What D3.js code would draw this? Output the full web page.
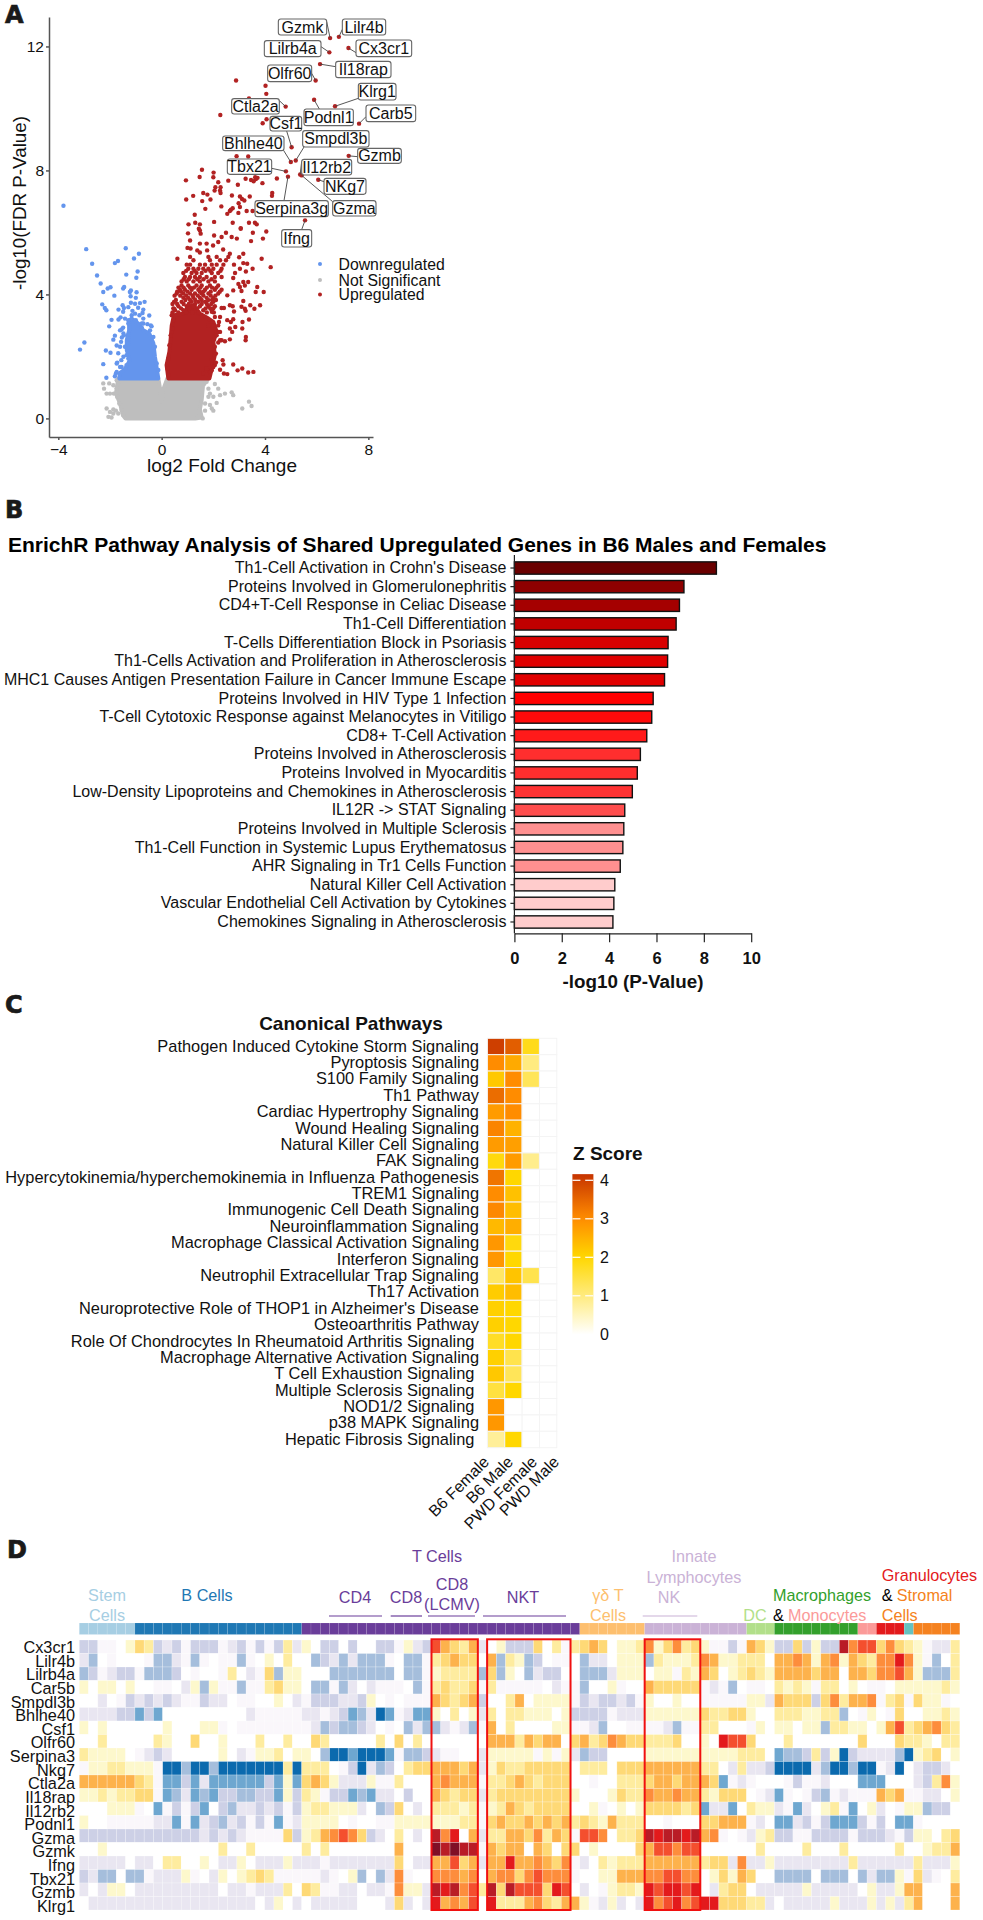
<!DOCTYPE html>
<html><head><meta charset="utf-8">
<script src="https://cdn.jsdelivr.net/npm/d3@7/dist/d3.min.js"></script>
<style>
html,body{margin:0;padding:0;background:#fff}
svg{display:block}
text{font-family:"Liberation Sans",Arial,sans-serif;fill:#111}
.pre{white-space:pre}
</style></head><body>
<svg id="fig" width="983" height="1920"></svg>
<script>
/* ---------- Panel A data (log2 fold change, -log10 FDR) ---------- */
const labelGenes=["Gzmk","Lilr4b","Lilrb4a","Cx3cr1","Il18rap","Olfr60","Klrg1","Ctla2a","Podnl1","Carb5","Csf1","Smpdl3b","Bhlhe40","Gzmb","Tbx21","Il12rb2","NKg7","Serpina3g","Gzma","Ifng"];
const labelFC=[6.52,6.86,6.49,7.23,6.13,5.96,6.71,4.8,5.9,7.64,5.03,5.19,5.0,7.24,4.81,5.36,6.06,4.89,5.42,5.55];
const labelP=[12.27,12.31,11.81,11.95,11.43,10.9,10.07,10.06,10.28,9.51,8.75,8.32,8.27,8.47,7.97,7.87,7.7,7.8,7.84,6.39];
const upSparse=[[2.88,10.9],[4.02,10.73],[4.05,10.47],[3.38,10.32],[2.27,9.79],[3.91,9.52],[4.06,9.65],[2.9,8.46],[3.35,8.45],
[1.56,8.02],[2.01,7.93],[1.47,7.79],[.94,7.68],[2.0,7.78],[2.19,7.62],[2.58,7.67],[3.25,7.73],[3.46,7.69],[3.56,7.65],[3.65,7.72],[3.71,7.76],[3.62,7.78],[4.46,7.74],[3.9,7.59],[2.95,7.54],
[2.08,7.46],[2.28,7.46],[2.05,7.35],[2.26,7.35],[2.28,7.27],[1.61,7.27],[1.22,7.18],[1.77,7.22],[2.72,7.19],[3.03,7.16],[3.41,7.16],[4.28,7.27],[4.27,7.18],[.95,7.06],[1.57,7.01],[1.89,7.06],[3.11,7.08],[3.2,7.03],[2.98,6.94],[3.74,6.97],
[2.31,6.84],[1.69,6.76],[2.75,6.78],[3.03,6.82],[2.68,6.73],[2.64,6.69],[3.29,6.69],[2.54,6.6],[2.97,6.63],[3.52,6.69],[1.28,6.57],[1.04,6.26],[1.3,6.31],[1.48,6.26],[2.03,6.34],[1.44,6.12],[2.75,6.31],[3.06,6.12],[3.38,6.31],[3.61,6.31],[3.68,6.26],
[1.02,5.97],[1.48,6.06],[1.51,5.96],[2.03,5.9],[2.49,5.99],[2.32,5.85],[2.71,5.85],[2.91,5.8],[3.06,6.14],[3.53,5.99],[4.05,6.03],[3.92,5.8],[3.46,5.72],[1.1,5.74],[1.48,5.64],[1.74,5.64],[1.99,5.58],[2.19,5.69],[1.0,5.5],[1.12,5.48],[1.38,5.42],[1.48,5.35],[.61,5.15],[1.76,5.42],[2.38,5.45],[2.64,5.31],[3.16,5.31],[3.0,5.2],[3.87,5.15],
[4.22,4.88],[2.8,4.96],[3.16,5.01],[3.31,4.99],[3.52,4.83],[3.03,4.83],[3.26,4.74],[2.84,4.69],[2.77,4.53],[2.97,4.34],[3.16,4.4],[3.35,4.4],[3.22,4.29],[3.03,4.24],[3.7,4.24],[3.64,4.08],[3.95,4.08],[2.77,4.13],[3.09,4.11],[2.54,3.97],[3.16,3.79],[3.43,3.65],[3.81,3.65],[3.59,3.54],[2.64,3.65],[2.75,3.62],[2.32,3.56],[2.41,3.56],[3.09,3.6],[3.22,3.54],[3.25,3.47],[2.8,3.45],
[2.54,3.17],[2.68,3.11],[2.77,3.2],[3.38,3.19],[3.13,3.11],[2.85,2.95],[2.64,2.9],[2.73,2.79],[3.12,2.9],[3.26,2.63],[3.25,2.52],[2.22,3.11],[2.26,3.27],[2.19,3.0],[2.26,2.79],[2.13,2.68],[2.32,2.52],[2.45,2.49],[2.64,2.55],[2.19,2.45],
[2.1,1.8],[2.36,1.88],[2.39,1.74],[2.26,1.57],[2.41,1.45],[2.54,1.43],[2.77,1.74],[2.94,1.55],[3.12,1.61],[3.35,1.48],[3.55,1.5],[2.0,1.66],[1.74,1.61],[1.94,1.55]];
const upCluster=[[1.1,5.21],[1.81,5.21],[2.13,5.21],[2.58,5.21],[1.23,5.1],[1.87,5.1],[2.26,5.1],[2.49,5.1],
[.97,4.96],[1.1,4.96],[1.48,4.96],[1.68,4.96],[1.94,4.96],[2.13,4.96],[2.39,4.96],[1.03,4.83],[1.23,4.83],[1.42,4.83],[1.61,4.83],[1.81,4.83],[2.0,4.83],[2.32,4.83],
[.84,4.69],[1.16,4.69],[1.35,4.69],[1.55,4.69],[1.94,4.69],[2.19,4.69],[.9,4.56],[1.1,4.56],[1.29,4.56],[1.48,4.56],[1.74,4.56],[2.06,4.56],[2.32,4.56],
[.77,4.42],[.97,4.42],[1.23,4.42],[1.48,4.42],[1.81,4.42],[2.06,4.42],[.77,4.29],[1.03,4.29],[1.35,4.29],[1.55,4.29],[1.87,4.29],[2.19,4.29],
[.71,4.15],[.9,4.15],[1.16,4.15],[1.42,4.15],[1.68,4.15],[2.06,4.15],[2.32,4.15],[.58,4.03],[.84,4.03],[1.1,4.03],[1.29,4.03],[1.55,4.03],[1.81,4.03],[2.19,4.03],
[.84,3.89],[1.03,3.89],[1.23,3.89],[1.48,3.89],[1.74,3.89],[2.0,3.89],[.48,3.76],[.77,3.76],[1.16,3.76],[1.42,3.76],[1.68,3.76],[2.0,3.76],
[.65,3.62],[.97,3.62],[1.23,3.62],[1.48,3.62],[1.81,3.62],[2.06,3.62],[.52,3.49],[.84,3.49],[1.1,3.49],[1.29,3.49],[1.61,3.49],[1.94,3.49],
[.95,4.76],[1.28,4.76],[1.7,4.76],[1.88,4.76],[2.28,4.76],
[.85,4.49],[1.05,4.49],[1.38,4.49],[1.62,4.49],[1.93,4.49],
[.65,4.22],[.85,4.22],[1.1,4.22],[1.25,4.22],[1.5,4.22],[1.75,4.22],[1.95,4.22],[2.12,4.22],
[.6,4.09],[.75,4.09],[1.0,4.09],[1.48,4.09],[1.62,4.09],[1.9,4.09],[2.25,4.09],
[.5,3.96],[.72,3.96],[.95,3.96],[1.2,3.96],[1.4,3.96],[1.62,3.96],[1.9,3.96],[2.08,3.96],
[.55,3.82],[.92,3.82],[1.1,3.82],[1.3,3.82],[1.55,3.82],[1.8,3.82],[1.95,3.82],[2.1,3.82],
[.42,3.69],[.6,3.69],[.85,3.69],[1.05,3.69],[1.3,3.69],[1.55,3.69],[1.75,3.69],[1.92,3.69],
[.45,3.55],[.75,3.55],[1.05,3.55],[1.38,3.55],[1.7,3.55],[1.88,3.55],[2.0,3.55],
[.42,3.42],[.65,3.42],[.95,3.42],[1.2,3.42],[1.42,3.42],[1.75,3.42],[2.02,3.42],
[.45,3.17],[.43,2.9],[.35,2.68],[.3,2.36],[.26,1.93],[.22,1.61],[.26,1.4],[2.0,3.0],[2.19,2.79],[2.26,2.52],[2.06,2.31],[2.1,2.09],[1.94,1.88],[2.06,1.72],[1.87,1.5],[1.61,1.45],[1.81,3.0],[2.06,3.27],[1.94,3.44],[.39,3.33],[.48,3.54]];
const upCore=[[.48,3.33],[.84,3.38],[1.03,3.6],[1.23,3.65],[1.48,3.38],[1.81,3.22],[2.0,3.11],[2.13,2.79],[2.0,2.47],[2.06,2.04],[1.94,1.61],[1.85,1.29],[.26,1.29],[.19,1.72],[.3,2.15],[.35,2.58],[.39,3.0]];
const downSparse=[[-3.8,6.86],[-2.92,5.46],[-1.39,5.49],[-.88,5.31],[-1.07,5.16],[-2.69,4.99],[-1.81,5.01],[-1.69,5.08],[-2.5,4.61],[-.93,4.74],[-1.37,4.64],[-.98,4.54],[-2.36,4.35],[-2.09,4.19],[-1.98,4.23],[-2.26,4.08],[-1.49,4.19],[-1.45,4.24],[-1.19,4.13],[-1.23,4.08],[-.97,4.07],[-1.83,3.96],[-1.2,3.94],[-1.0,3.89],[-.66,3.76],[-2.3,3.68],[-2.2,3.56],[-2.14,3.49],[-1.51,3.65],[-1.29,3.59],[-1.19,3.73],[-1.03,3.7],[-.84,3.72],[-1.46,3.56],[-1.67,3.51],[-1.13,3.47],[-.91,3.57],[-.71,3.51],[-.74,3.4],[-.48,3.32],[-1.49,3.44],[-1.94,3.18],[-1.67,3.19],[-1.59,3.26],[-1.42,3.22],[-1.19,3.19],[-1.0,3.17],[-.71,3.22],[-2.03,2.97],[-1.49,2.93],[-1.55,2.87],[-1.29,2.71],[-1.46,2.68],[-1.81,2.67],[-1.87,2.54],[-1.54,2.61],[-1.57,2.47],[-2.99,2.45],[-3.16,2.22],[-1.74,2.35],[-1.61,2.31],[-2.16,2.19],[-1.98,2.12],[-1.56,1.88],[-1.72,1.8],[-2.26,1.75],[-2.14,1.31],[-1.77,1.45],[-1.81,1.36],[-1.29,1.93],[-1.36,1.72],[-1.4,1.61],[-.39,2.97],[-.42,3.0],[-.71,3.06],[-.77,2.93],
[-1.29,3.06],[-1.48,2.74],[-1.42,2.31],[-1.48,1.99],[-1.61,1.66],[-1.74,1.5],[-.26,2.31],[-.32,2.63],[-.45,2.84],[-.19,1.77],[-.13,1.56],[-.77,3.06],[-.55,3.04],[-1.16,3.33],[-1.03,3.38],[-.86,3.33],[-1.29,3.17],[-1.61,2.84],[-1.29,2.58],[-1.29,2.42],[-1.36,2.04],[-1.68,2.1],[-1.74,1.77],[-1.55,1.66]];
const downCore=[[-1.26,3.06],[-1.16,3.22],[-.9,3.06],[-.71,2.84],[-.48,2.74],[-.32,2.42],[-.26,1.99],[-.17,1.5],[-.13,1.29],[-1.64,1.29],[-1.61,1.47],[-1.42,1.58],[-1.23,1.88],[-1.35,2.2],[-1.35,2.52],[-1.26,2.84]];
const nsSparse=[[-2.26,1.13],[-2.23,.96],[-2.03,1.13],[-1.87,1.07],[-2.13,.8],[-2.0,.8],[-1.85,.8],[-1.74,1.23],[-2.13,.32],[-1.87,.29],[-1.77,.25],[-2.0,.21],[-1.87,.16],[-2.06,.05],[-1.94,.03],[-1.68,.16],[1.74,1.18],[2.06,1.11],[1.81,.96],[2.19,.96],[1.87,.8],[2.26,.75],[2.45,.8],[2.71,.84],[2.77,.75],[1.81,.7],[2.0,.7],[2.13,.5],[1.68,.48],[1.87,.43],[1.94,.32],[2.0,.25],[1.68,.25],[1.48,.13],[1.59,0],[3.38,.54],[3.12,.32],[3.48,.4],
[-1.68,1.13],[-1.74,.97],[-1.72,.7],[-1.64,.48],[-1.55,.27],[-1.48,.11]];
const nsCore=[[-1.68,1.29],[-.13,1.29],[-.05,.9],[0,.54],[.05,.9],[.22,1.29],[1.8,1.29],[1.6,1.05],[1.55,.6],[1.48,.3],[1.55,.03],[1.3,0],[-1.4,0],[-1.5,.1],[-1.61,.48],[-1.77,.8]];
const volcanoXTicks=[-4,0,4,8], volcanoYTicks=[0,4,8,12];
const legendNames=["Downregulated","Not Significant","Upregulated"];

/* ---------- Panel B data ---------- */
const enrichTerms=["Th1-Cell Activation in Crohn's Disease","Proteins Involved in Glomerulonephritis","CD4+T-Cell Response in Celiac Disease","Th1-Cell Differentiation","T-Cells Differentiation Block in Psoriasis","Th1-Cells Activation and Proliferation in Atherosclerosis","MHC1 Causes Antigen Presentation Failure in Cancer Immune Escape","Proteins Involved in HIV Type 1 Infection","T-Cell Cytotoxic Response against Melanocytes in Vitiligo","CD8+ T-Cell Activation","Proteins Involved in Atherosclerosis","Proteins Involved in Myocarditis","Low-Density Lipoproteins and Chemokines in Atherosclerosis","IL12R -> STAT Signaling","Proteins Involved in Multiple Sclerosis","Th1-Cell Function in Systemic Lupus Erythematosus","AHR Signaling in Tr1 Cells Function","Natural Killer Cell Activation","Vascular Endothelial Cell Activation by Cytokines","Chemokines Signaling in Atherosclerosis"];
const enrichValues=[8.53,7.16,6.97,6.83,6.49,6.47,6.34,5.86,5.8,5.59,5.32,5.19,4.98,4.66,4.62,4.58,4.47,4.24,4.2,4.16];
const enrichColors=["#6a0000","#8e0000","#a50000","#c00000","#d80000","#e00000","#e00000","#ff0000","#ff0a0a","#ff1a1a","#ff2e2e","#ff2e2e","#ff3333","#ff4d4d","#ff9090","#ff9090","#ff9090","#ffcccc","#ffcccc","#ffcccc"];
const enrichTicks=[0,2,4,6,8,10];

/* ---------- Panel C data ---------- */
const canonicalPathways=["Pathogen Induced Cytokine Storm Signaling","Pyroptosis Signaling","S100 Family Signaling","Th1 Pathway","Cardiac Hypertrophy Signaling","Wound Healing Signaling","Natural Killer Cell Signaling","FAK Signaling","Hypercytokinemia/hyperchemokinemia in Influenza Pathogenesis","TREM1 Signaling","Immunogenic Cell Death Signaling","Neuroinflammation Signaling","Macrophage Classical Activation Signaling","Interferon Signaling","Neutrophil Extracellular Trap Signaling","Th17 Activation","Neuroprotective Role of THOP1 in Alzheimer's Disease","Osteoarthritis Pathway","Role Of Chondrocytes In Rheumatoid Arthritis Signaling ","Macrophage Alternative Activation Signaling","T Cell Exhaustion Signaling ","Multiple Sclerosis Signaling ","NOD1/2 Signaling ","p38 MAPK Signaling","Hepatic Fibrosis Signaling "];
const canonicalSamples=["B6 Female","B6 Male","PWD Female","PWD Male"];
const zB6Female=[4.0,3.0,2.2,3.4,2.8,3.1,2.8,1.9,3.3,3.0,3.05,2.4,2.85,2.85,1.2,2.15,2.1,2.1,1.7,2.1,2.2,1.5,2.85,2.85,0.8];
const zB6Male=[3.6,2.6,3.0,3.0,3.0,2.5,2.75,2.8,2.0,2.3,2.35,2.55,1.9,2.0,2.25,2.35,2.0,2.0,2.0,1.4,1.3,2.0,0,0,2.0];
const zPWDFemale=[1.8,1.0,1.3,0,0,0,0,0.9,0,0,0,0,0,0,1.4,0,0,0,0,0,0,0,0,0,0];
const zPWDMale=[0,0,0,0,0,0,0,0,0,0,0,0,0,0,0,0,0,0,0,0,0,0,0,0,0];
const zTicks=[0,1,2,3,4];

/* ---------- Panel D data: one character per cell, 0 (dark blue) to F (darkest red) ---------- */
const heatGenes=["Cx3cr1","Lilr4b","Lilrb4a","Car5b","Smpdl3b","Bhlhe40","Csf1","Olfr60","Serpina3","Nkg7","Ctla2a","Il18rap","Il12rb2","Podnl1","Gzma","Gzmk","Ifng","Tbx21","Gzmb","Klrg1"];
const heatRows=[
"3355679834 3533354353 5384763363 66335743CA 98A4673339 68589A9677 8B79B89755 35A9733937 33EBCC9B98 75448",
"4265666522 4525655256 7686623424 2225622589 A996A28723 6556244677 7287778BA7 78886AABA7 AB7A98BBDB 75268",
"2354335222 3656658645 9277666222 2222622578 8882927624 3366222477 7677587A96 78987AAAA9 AA6AA9BBCA 72228",
"7677676655 6472755255 8977622524 6455562589 8895855555 6455266756 6A99999545 2655687875 8867655677 77787",
"6646534343 4553446556 6764533344 37656555A9 89A3668A67 7775343343 5766766555 55774A9993 9B8AAB5895 97756",
"4444331316 6666666645 5555445431 2401541176 8674868877 7673333544 4777777988 9976688877 8826576596 67787",
"7676666667 6667756555 5555542322 3465624224 5425A68666 6775542665 5554255886 6657677677 2887767AC8 9AB98",
"6686666687 6696676668 6686698666 6686968666 6666AAA8A9 AA69A89BA9 988896676D CC96668666 6666966698 87688",
"8777765434 6666676457 7867762001 0001522345 5664777775 7574233666 6777777777 7888612238 3703444420 78967",
"5778877750 0200200000 0080888653 04236899AA A9A4798899 9996888699 9AAAAAA886 4844300004 2002005406 43346",
"AAAAAA9851 1314111111 31719A9744 47558666AB AAA5889A98 9996656688 89AA9AAA91 5456665355 4666111666 438B7",
"7787889951 2412133223 3173875331 21446366A9 8994899999 9997666798 8BAABAA879 9965415653 254555A9A5 54467",
"6667775615 3531632443 4353788777 4623964688 878578A989 9996675676 7999989144 1687745146 7851674657 72336",
"7665555544 1514324353 5154777765 6655777777 78859A99A9 A9A8987A88 866566699A AA54611435 3111353611 56666",
"3333333333 3334343455 559378ABCB 93468646EB D6A488AA9B 8A95CCB688 9EDEEDEAB5 6547833553 3335333453 77689",
"6676666666 6666686686 6666868666 6666A666FE FEE5A9AA6A 9699676666 9ACCBCC666 6668666686 6686666686 6788A",
"4444464468 8667644764 4474445444 44449644AA C9A4AADAAB A9B5468788 8AAAAAA899 4B44744444 4448444444 84447",
"3422622544 4756476789 8555554567 2624B566BB BAB6ABB9BC BBB56677AA ABBCCBB679 7A96622226 2226242275 94568",
"4647764444 4444464454 4486985544 6445B774ED EBC8E9ECCC 9DC6465788 7DCDDCD648 9964444474 444467447A A666A",
"6444444444 4444444446 4764644444 66649464DA BAC6D888AB 98AA754746 4DBCDBCDD9 9988464444 4744474748 A666A"];
const heatPalette=["#0b6aae","#6ea7d0","#a5bedc","#cdd0e6","#e9e6f1","#faf7fb","#ffffff","#fdf8cc","#feec9f","#fed976","#fdb24c","#fd8d3c","#f44f2e","#e31a1c","#b91c26","#800f26"];
const stripGroups=["Stem","B","T","gd","ILC","DC","Mac","Mono","Gran","Teal","Strom"];
const stripCounts=[6,18,30,7,11,3,9,2,3,1,5];
const stripColors=["#a6cee3","#1f78b4","#6a3d9a","#fdbf6f","#cab2d6","#b2df8a","#33a02c","#fb9a99","#e31a1c","#66c2c0","#f58220"];
const boxedColumns=[[38,42],[44,52],[61,66]];

/* ---------- Layout (pixels) ---------- */
const svg=d3.select("#fig");
const panelLetters=[["A",5,23],["B",5,518],["C",5,1013],["D",7,1558]];
svg.selectAll("text.panel").data(panelLetters).join("text").attr("class","panel")
 .attr("x",d=>d[1]).attr("y",d=>d[2]).text(d=>d[0])
 .style("font-family","'DejaVu Sans',sans-serif").style("font-weight",900).style("font-size","24px").style("fill","#1a1a1a").style("stroke","#1a1a1a").style("stroke-width",".7px");

function styleAxis(g,color,w){g.selectAll("path,line").attr("stroke",color).attr("stroke-width",w);}

/* ---------- Panel A ---------- */
const vx=d3.scaleLinear().domain([-4.36,8.18]).range([49,373]);
const vy=d3.scaleLinear().domain([-0.6,12.95]).range([437,17]);
const A=svg.append("g");
const volcanoLine=d3.line().x(d=>vx(d[0])).y(d=>vy(d[1])).curve(d3.curveLinearClosed);
const GREY="#bebebe",BLUE="#6495ed",RED="#b22222";
function core(pts,c){A.append("path").attr("d",volcanoLine(pts)).attr("fill",c).attr("stroke",c).attr("stroke-width",4).attr("stroke-linejoin","round");}
function dots(pts,c,r){A.append("g").selectAll("circle").data(pts).join("circle").attr("cx",d=>vx(d[0])).attr("cy",d=>vy(d[1])).attr("r",r||2.2).attr("fill",c);}
core(nsCore,GREY);dots(nsSparse,GREY);
core(downCore,BLUE);dots(downSparse,BLUE);
core(upCore,RED);dots(upCluster,RED);dots(upSparse,RED);
dots(labelGenes.map((g,i)=>[labelFC[i],labelP[i]]),RED);

const axA=A.append("g").attr("transform","translate(0,437)").call(d3.axisBottom(vx).tickValues(volcanoXTicks).tickSize(3).tickSizeOuter(0).tickPadding(4));
const ayA=A.append("g").attr("transform","translate(49,0)").call(d3.axisLeft(vy).tickValues(volcanoYTicks).tickSize(3).tickSizeOuter(0).tickPadding(2));
[axA,ayA].forEach(g=>{styleAxis(g,"#555",1.5);g.selectAll("text").style("font-size","15.5px").style("fill","#111");});
A.append("text").attr("x",222).attr("y",472).attr("text-anchor","middle").style("font-size","19px").text("log2 Fold Change");
A.append("text").attr("transform","translate(26,203) rotate(-90)").attr("text-anchor","middle").style("font-size","18.8px").text("-log10(FDR P-Value)");
const legendColors=[BLUE,GREY,RED],legendY=[264,280,294.5];
legendNames.forEach((n,i)=>{A.append("circle").attr("cx",320).attr("cy",legendY[i]).attr("r",2).attr("fill",legendColors[i]);
 A.append("text").attr("x",338.5).attr("y",legendY[i]+5.5).style("font-size","15.8px").text(n);});

/* callout boxes: x0,y0,x1,y1 of the box, then the leader's start (zoom-measured, /3 gives pixels) */
const calloutLayout={Gzmk:[835,57,980,105,980,65],Lilr4b:[1027,57,1157,105,1027,88],Lilrb4a:[793,122,963,170,963,140],Cx3cr1:[1068,120,1235,170,1068,158],Il18rap:[1007,184,1173,233,1007,200],Olfr60:[803,195,935,245,935,220],Klrg1:[1075,250,1188,300,1075,295],Ctla2a:[695,296,838,342,838,302],Podnl1:[912,327,1060,377,958,327],Carb5:[1098,315,1247,365,1098,350],Csf1:[810,349,905,393,860,393],Smpdl3b:[908,392,1107,441,912,441],Bhlhe40:[668,408,852,452,850,450],Gzmb:[1073,445,1204,490,1073,470],Tbx21:[682,477,815,523,815,505],Il12rb2:[905,478,1055,525,905,485],NKg7:[972,535,1098,583,972,545],Serpina3g:[765,602,985,650,852,602],Gzma:[998,602,1128,648,998,605],Ifng:[845,689,935,741,905,689]};
labelGenes.forEach((g,i)=>{const L=calloutLayout[g].map(v=>v/3);
 A.append("line").attr("x1",L[4]).attr("y1",L[5]).attr("x2",vx(labelFC[i])).attr("y2",vy(labelP[i])).attr("stroke","#444").attr("stroke-width",.9);});
labelGenes.forEach(g=>{const L=calloutLayout[g].map(v=>v/3);
 A.append("rect").attr("x",L[0]).attr("y",L[1]).attr("width",L[2]-L[0]).attr("height",L[3]-L[1]).attr("rx",2.5).attr("fill","#fff").attr("stroke","#666").attr("stroke-width",1.1);
 A.append("text").attr("x",(L[0]+L[2])/2).attr("y",(L[1]+L[3])/2+5.6).attr("text-anchor","middle").style("font-size","16px").text(g);});

/* ---------- Panel B ---------- */
const B=svg.append("g");
const bx=d3.scaleLinear().domain([0,10]).range([514.4,751.2]);
const by=d3.scaleBand().domain(enrichTerms).range([558.7,931.3]).paddingInner(0.34).paddingOuter(0.17);
B.append("text").attr("x",8).attr("y",552).style("font-size","21px").style("font-weight","bold").style("fill","#000").text("EnrichR Pathway Analysis of Shared Upregulated Genes in B6 Males and Females");
B.selectAll("rect").data(enrichTerms).join("rect").attr("x",bx(0)).attr("y",d=>by(d)).attr("width",(d,i)=>bx(enrichValues[i])-bx(0)).attr("height",by.bandwidth()).attr("fill",(d,i)=>enrichColors[i]).attr("stroke","#111").attr("stroke-width",1.4);
const byAxis=B.append("g").attr("transform",`translate(${bx(0)},0)`).call(d3.axisLeft(by).tickSize(4).tickPadding(4).tickSizeOuter(0));
byAxis.select(".domain").remove();
styleAxis(byAxis,"#222",1.2);byAxis.selectAll("text").style("font-size","16px").style("fill","#111");
B.append("line").attr("x1",bx(0)).attr("x2",bx(0)).attr("y1",555).attr("y2",933.3).attr("stroke","#222").attr("stroke-width",1.2);
const bxAxis=B.append("g").attr("transform","translate(0,933.3)").call(d3.axisBottom(bx).tickValues(enrichTicks).tickSize(9).tickPadding(10).tickSizeOuter(0));
styleAxis(bxAxis,"#222",1.2);bxAxis.selectAll("text").style("font-size","16.5px").style("font-weight","bold").style("fill","#111");
B.append("text").attr("x",633).attr("y",988).attr("text-anchor","middle").style("font-size","18.8px").style("font-weight","bold").text("-log10 (P-Value)");

/* ---------- Panel C ---------- */
const C=svg.append("g");
const cx=d3.scaleBand().domain(canonicalSamples).range([487.4,556.8]);
const cy=d3.scaleBand().domain(canonicalPathways).range([1038.3,1447.7]);
const zColor=d3.scaleLinear().domain([0,2,3,4.2]).range(["#ffffff","#ffd700","#ff8c00","#c43000"]);
const zValues=[zB6Female,zB6Male,zPWDFemale,zPWDMale];
C.append("text").attr("x",351).attr("y",1030).attr("text-anchor","middle").style("font-size","19px").style("font-weight","bold").text("Canonical Pathways");
canonicalSamples.forEach((s,j)=>{
 C.append("g").selectAll("rect").data(canonicalPathways).join("rect").attr("x",cx(s)).attr("y",d=>cy(d)).attr("width",cx.bandwidth()).attr("height",cy.bandwidth()).attr("fill",(d,i)=>zColor(zValues[j][i])).attr("stroke","#f4f4f4").attr("stroke-width",1);
});
const cyAxis=C.append("g").attr("transform","translate(484,0)").call(d3.axisLeft(cy).tickSize(0).tickPadding(5));
cyAxis.select(".domain").remove();
cyAxis.selectAll("text").attr("class","pre").style("font-size","16.4px").style("fill","#111");
const sampleAnchorX=[490,514,538,560];
C.selectAll("text.samp").data(canonicalSamples).join("text").attr("class","samp").attr("text-anchor","end")
 .attr("transform",(d,i)=>`translate(${sampleAnchorX[i]},1463) rotate(-45)`).style("font-size","16px").text(d=>d);
C.append("text").attr("x",573).attr("y",1160).style("font-size","19px").style("font-weight","bold").text("Z Score");
const zBar=d3.scaleLinear().domain([0,4]).range([1334.3,1180.3]);
const zTop=4.16;
const grad=svg.append("defs").append("linearGradient").attr("id","zg").attr("x1",0).attr("x2",0).attr("y1",1).attr("y2",0);
d3.range(0,1.0001,0.05).forEach(t=>grad.append("stop").attr("offset",t).attr("stop-color",zColor(t*zTop)));
C.append("rect").attr("x",572.4).attr("y",zBar(zTop)).attr("width",21).attr("height",zBar(0)-zBar(zTop)).attr("fill","url(#zg)");
zTicks.forEach(t=>{if(t>0){[[572.4,580.4],[585.2,593.2]].forEach(s=>C.append("line").attr("x1",s[0]).attr("x2",s[1]).attr("y1",zBar(t)).attr("y2",zBar(t)).attr("stroke","#fff").attr("stroke-width",1.2));}
 C.append("text").attr("x",600).attr("y",zBar(t)+5.5).style("font-size","16px").text(t);});

/* ---------- Panel D ---------- */
const D=svg.append("g");
const rows=heatRows.map(s=>s.replace(/ /g,""));
const nCols=95;
const hx=d3.scaleBand().domain(d3.range(nCols)).range([79.3,959.8]);
const hy=d3.scaleBand().domain(heatGenes).range([1640,1910]);
const level=d3.scaleOrdinal().domain(d3.range(16)).range(heatPalette);
heatGenes.forEach((g,r)=>{
 const cells=d3.range(nCols).map(c=>parseInt(rows[r][c]||"6",16));
 D.append("g").selectAll("rect").data(cells).join("rect").attr("x",(d,c)=>hx(c)).attr("y",hy(g)).attr("width",hx.bandwidth()).attr("height",hy.bandwidth()).attr("fill",d=>level(d)).attr("stroke","#fff").attr("stroke-opacity",.4).attr("stroke-width",.6);
});
/* strip */
let start=0;
stripGroups.forEach((s,i)=>{
 D.append("g").selectAll("rect").data(d3.range(start,start+stripCounts[i])).join("rect").attr("x",c=>hx(c)).attr("y",1623).attr("width",hx.bandwidth()).attr("height",11.5).attr("fill",stripColors[i]).attr("stroke","#fff").attr("stroke-opacity",.2).attr("stroke-width",.5);
 start+=stripCounts[i];
});
/* boxes */
boxedColumns.forEach(b=>D.append("rect").attr("x",hx(b[0])).attr("y",1639.3).attr("width",hx(b[1])+hx.bandwidth()-hx(b[0])).attr("height",270.7).attr("fill","none").attr("stroke","#f01010").attr("stroke-width",2));
/* row labels */
const labelY=d3.scalePoint().domain(heatGenes).range([1653,1912]);
D.selectAll("text.gene").data(heatGenes).join("text").attr("class","gene").attr("x",75).attr("y",d=>labelY(d)).attr("text-anchor","end").style("font-size","16.3px").text(d=>d);
/* group labels */
const P="#6a3d9a",LB="#a6cee3",DB="#1f78b4",OR="#fdbf6f",LP="#cab2d6",LG="#b2df8a",DG="#33a02c",PK="#fb9a99",GR="#e31a1c",SO="#f58220";
const groupText=[["Stem",107,1601,LB,"middle"],["Cells",107,1621,LB,"middle"],["B Cells",207,1601,DB,"middle"],["T Cells",437,1562,P,"middle"],["CD4",355,1603,P,"middle"],["CD8",406,1603,P,"middle"],["CD8",452,1590,P,"middle"],["(LCMV)",452,1610,P,"middle"],["NKT",523,1603,P,"middle"],["\u03b3\u03b4 T",608,1601,OR,"middle"],["Cells",608,1621,OR,"middle"],["Innate",694,1562,LP,"middle"],["Lymphocytes",694,1583,LP,"middle"],["NK",669,1603,LP,"middle"],["DC",755,1621,LG,"middle"],["Macrophages",773,1601,DG,"start"],["&",773,1621,"#000","start"],["Monocytes",788,1621,PK,"start"],["Granulocytes",881.7,1581,GR,"start"],["&",881.7,1601,"#000","start"],["Stromal",896.7,1601,SO,"start"],["Cells",881.7,1621,SO,"start"]];
D.selectAll("text.grp").data(groupText).join("text").attr("class","grp").attr("x",d=>d[1]).attr("y",d=>d[2]).attr("text-anchor",d=>d[4]).style("font-size","16.2px").style("fill",d=>d[3]).text(d=>d[0]);
const groupRules=[[329,382,P],[390.7,422,P],[428,475,P],[483,566,P],[642.7,697.3,LP]];
D.selectAll("line.rule").data(groupRules).join("line").attr("class","rule").attr("x1",d=>d[0]).attr("x2",d=>d[1]).attr("y1",1616).attr("y2",1616).attr("stroke",d=>d[2]).attr("stroke-width",1.2);
</script>
</body></html>
